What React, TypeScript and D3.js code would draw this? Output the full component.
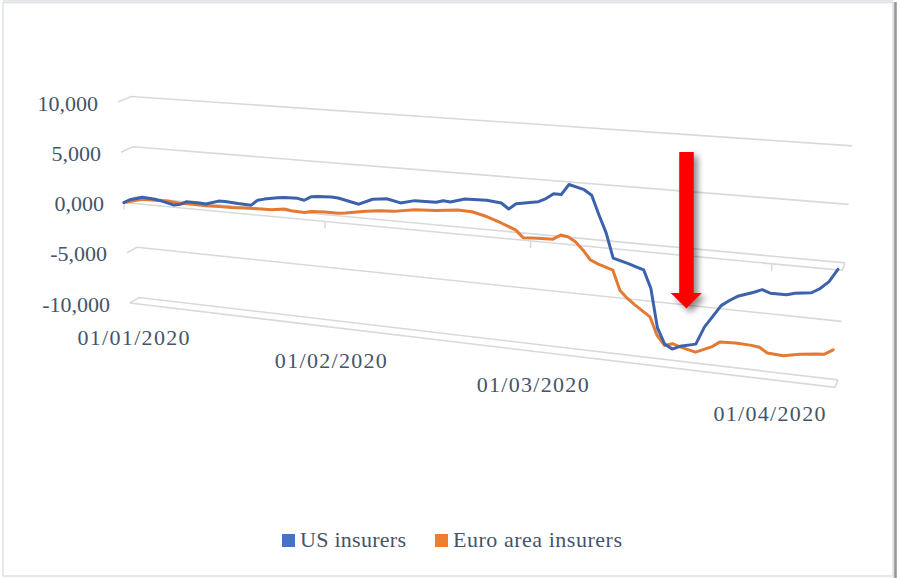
import React from "react";
import * as d3 from "d3";

// ---- data -------------------------------------------------------------
const usInsurers: [string, number][] = [
  ["2020-01-01", 0], ["2020-01-02", 340], ["2020-01-04", 700], ["2020-01-06", 620],
  ["2020-01-07", 510], ["2020-01-09", 210], ["2020-01-10", 340], ["2020-01-11", 660],
  ["2020-01-13", 650], ["2020-01-14", 620], ["2020-01-16", 1010], ["2020-01-17", 1020],
  ["2020-01-19", 950], ["2020-01-21", 910], ["2020-01-22", 1450], ["2020-01-23", 1610],
  ["2020-01-25", 1850], ["2020-01-26", 1940], ["2020-01-28", 1970], ["2020-01-29", 1850],
  ["2020-01-30", 2230], ["2020-01-31", 2320], ["2020-02-02", 2380], ["2020-02-03", 2350],
  ["2020-02-06", 1940], ["2020-02-08", 2520], ["2020-02-10", 2690], ["2020-02-12", 2410],
  ["2020-02-14", 2740], ["2020-02-17", 2770], ["2020-02-18", 2970], ["2020-02-19", 2900],
  ["2020-02-21", 3290], ["2020-02-24", 3360], ["2020-02-26", 3220], ["2020-02-27", 2730],
  ["2020-02-28", 3260], ["2020-03-02", 3630], ["2020-03-03", 3970], ["2020-03-04", 4460],
  ["2020-03-05", 4450], ["2020-03-06", 5420], ["2020-03-08", 5060], ["2020-03-09", 4620],
  ["2020-03-10", 2925], ["2020-03-11", 1356], ["2020-03-12", -838], ["2020-03-14", -1200],
  ["2020-03-15", -1418], ["2020-03-16", -1626], ["2020-03-17", -3203], ["2020-03-18", -6600],
  ["2020-03-19", -7966], ["2020-03-20", -8344], ["2020-03-21", -8024], ["2020-03-23", -7670],
  ["2020-03-24", -6104], ["2020-03-26", -4065], ["2020-03-27", -3548], ["2020-03-28", -3108],
  ["2020-03-30", -2613], ["2020-03-31", -2316], ["2020-04-01", -2555], ["2020-04-03", -2549],
  ["2020-04-04", -2347], ["2020-04-06", -2160], ["2020-04-07", -1728], ["2020-04-08", -1087],
  ["2020-04-09", 50],
];

const euroInsurers: [string, number][] = [
  ["2020-01-01", 0], ["2020-01-04", 500], ["2020-01-06", 520], ["2020-01-08", 550],
  ["2020-01-10", 440], ["2020-01-12", 470], ["2020-01-14", 450], ["2020-01-16", 480],
  ["2020-01-18", 500], ["2020-01-20", 565], ["2020-01-22", 620], ["2020-01-24", 640],
  ["2020-01-26", 830], ["2020-01-27", 720], ["2020-01-29", 675], ["2020-01-30", 835],
  ["2020-02-01", 900], ["2020-02-03", 900], ["2020-02-04", 980], ["2020-02-07", 1340],
  ["2020-02-09", 1490], ["2020-02-11", 1560], ["2020-02-14", 1890], ["2020-02-17", 2000],
  ["2020-02-20", 2230], ["2020-02-22", 2180], ["2020-02-24", 1860], ["2020-02-26", 1390],
  ["2020-02-28", 860], ["2020-02-29", 230], ["2020-03-02", 300], ["2020-03-04", 350],
  ["2020-03-05", 785], ["2020-03-06", 690], ["2020-03-07", 300], ["2020-03-08", -360],
  ["2020-03-09", -1180], ["2020-03-10", -1490], ["2020-03-12", -1920], ["2020-03-13", -3660],
  ["2020-03-14", -4300], ["2020-03-15", -4800], ["2020-03-17", -5720], ["2020-03-18", -7290],
  ["2020-03-19", -8100], ["2020-03-20", -7870], ["2020-03-21", -8070], ["2020-03-23", -8380],
  ["2020-03-25", -7760], ["2020-03-26", -7260], ["2020-03-28", -7190], ["2020-03-30", -7230],
  ["2020-03-31", -7320], ["2020-04-01", -7740], ["2020-04-03", -7810], ["2020-04-05", -7530],
  ["2020-04-07", -7340], ["2020-04-08", -7280], ["2020-04-09", -6830],
];

const valueTicks = [10000, 5000, 0, -5000, -10000];
const valueTickLabels = ["10,000", "5,000", "0,000", "-5,000", "-10,000"];
const seriesNames = ["US insurers", "Euro area insurers"];
const seriesColors = ["#3D62AD", "#E47A31"];
const swatchColors = ["#4472C4", "#ED7D31"];

// ---- perspective box ---------------------------------------------------
const W = 897;
const H = 578;
const parse = d3.timeParse("%Y-%m-%d");
const startDate = parse("2020-01-01") as Date;
const endDate = parse("2020-04-09") as Date;

const uScale = d3.scaleTime().domain([startDate, endDate]).range([0, 1]);
const vScale = d3.scaleLinear().domain([-10000, 10000]).range([-1, 1]);
const U_MAX = 1.005; // wall extends a little past the last observation

// front plane (where the series sit)
function front(u: number, v: number): [number, number] {
  const d = 1 - 0.1404 * u;
  const x = (596.3 * u + 124 + (-6 + 12 * u) * v) / d;
  const y = (29.6 * u + 202.5 - 100.5 * v) / d;
  return [x, y];
}
const xLeft = front(0, 0)[0];
const xRight = front(1, 0)[0];
// back wall: front plane pushed into depth
function back(u: number, v: number): [number, number] {
  const [x, y] = front(u, v);
  const p = (front(u, 0)[0] - xLeft) / (xRight - xLeft);
  return [x + 11 - 8 * p + 2 * v * (1 - p), y - 5.5 - 2 * p];
}

const pt = (p: [number, number]) => `${p[0].toFixed(2)},${p[1].toFixed(2)}`;
const poly = (ps: [number, number][]) => "M" + ps.map(pt).join("L");

function seriesPath(data: [string, number][]) {
  const line = d3
    .line<[string, number]>()
    .x((d) => front(uScale(parse(d[0]) as Date), vScale(d[1]))[0])
    .y((d) => front(uScale(parse(d[0]) as Date), vScale(d[1]))[1]);
  return line(data) || "";
}

const monthTicks = uScale.ticks(d3.timeMonth.every(1) as d3.TimeInterval);
const fmtDate = d3.timeFormat("%d/%m/%Y");

const FONT = "'Liberation Serif', 'DejaVu Serif', serif";
const TEXT = "#44546A";
const GRID = "#d9d9d9";

export default function App() {
  const arrowX = 686.5;
  return (
    <div style={{ position: "absolute", left: 0, top: 0 }}>
      <svg width={W} height={H} viewBox={`0 0 ${W} ${H}`} style={{ display: "block" }}>
        <defs>
          <linearGradient id="edgeShade" x1="0" x2="1" y1="0" y2="0">
            <stop offset="0" stopColor="#d8d8d8" />
            <stop offset="0.45" stopColor="#8e8e8e" />
            <stop offset="1" stopColor="#b8b8b8" />
          </linearGradient>
          <linearGradient id="topShade" x1="0" x2="0" y1="0" y2="1">
            <stop offset="0" stopColor="#e2e2e2" />
            <stop offset="1" stopColor="#ffffff" />
          </linearGradient>
          <filter id="arrowShadow" x="-50%" y="-20%" width="200%" height="140%">
            <feDropShadow dx="4" dy="4" stdDeviation="3" floodColor="#000" floodOpacity="0.45" />
          </filter>
        </defs>
        <rect x={0} y={0} width={W} height={H} fill="#fff" />
        <rect x={3} y={0} width={890} height={4} fill="url(#topShade)" />
        <rect x={3} y={2.5} width={890} height={573.5} fill="none" stroke="#dde2e8" strokeWidth={1.5} />
        <rect x={893.5} y={2} width={3.5} height={576} fill="url(#edgeShade)" />

        {/* back wall gridlines with their side-wall returns */}
        <g fill="none" stroke={GRID} strokeWidth={1.6}>
          {valueTicks.map((t) => {
            const v = vScale(t);
            return <path key={t} d={poly([front(0, v), back(0, v), back(U_MAX, v)])} />;
          })}
          {/* floor edge and category-axis plane */}
          {[-10000, 0].map((t) => {
            const v = vScale(t);
            return <path key={"f" + t} d={poly([front(0, v), front(U_MAX, v), back(U_MAX, v)])} />;
          })}
        </g>

        {/* month tick marks */}
        <g stroke="#d3dae4" strokeWidth={1.5}>
          {monthTicks.map((m) => {
            const [x, y] = front(uScale(m), 0);
            return <line key={+m} x1={x} y1={y} x2={x} y2={y + 7} />;
          })}
        </g>

        {/* series */}
        <path d={seriesPath(euroInsurers)} fill="none" stroke={seriesColors[1]} strokeWidth={3} strokeLinejoin="round" strokeLinecap="round" />
        <path d={seriesPath(usInsurers)} fill="none" stroke={seriesColors[0]} strokeWidth={3} strokeLinejoin="round" strokeLinecap="round" />

        {/* value axis labels */}
        <g fontFamily={FONT} fontSize={22} fill={TEXT} textAnchor="end">
          {valueTicks.map((t, i) => {
            const [x, y] = front(0, vScale(t));
            return (
              <text key={t} x={x - 20} y={y + 1} dominantBaseline="central">
                {valueTickLabels[i]}
              </text>
            );
          })}
        </g>

        {/* date labels */}
        <g fontFamily={FONT} fontSize={22} fill={TEXT} textAnchor="middle">
          {monthTicks.map((m) => {
            const [x, y] = front(uScale(m), -1);
            return (
              <text key={+m} x={x + 3.5} y={y + 34} dominantBaseline="central" textLength={112} lengthAdjust="spacing">
                {fmtDate(m)}
              </text>
            );
          })}
        </g>

        {/* annotation arrow */}
        <path
          d={`M${arrowX - 7.3},152 H${arrowX + 7.3} V293 H${arrowX + 15.3} L${arrowX},308.5 L${arrowX - 15.8},293 H${arrowX - 7.3} Z`}
          fill="#FF0000"
          filter="url(#arrowShadow)"
        />

        {/* legend */}
        <g fontFamily={FONT} fontSize={22} fill={TEXT}>
          {seriesNames.map((name, i) => {
            const x = i === 0 ? 282 : 435;
            const len = i === 0 ? 106 : 169;
            return (
              <g key={name}>
                <rect x={x} y={534} width={13} height={13} fill={swatchColors[i]} />
                <text x={x + 18} y={546.5} textLength={len} lengthAdjust="spacing">{name}</text>
              </g>
            );
          })}
        </g>
      </svg>
    </div>
  );
}
